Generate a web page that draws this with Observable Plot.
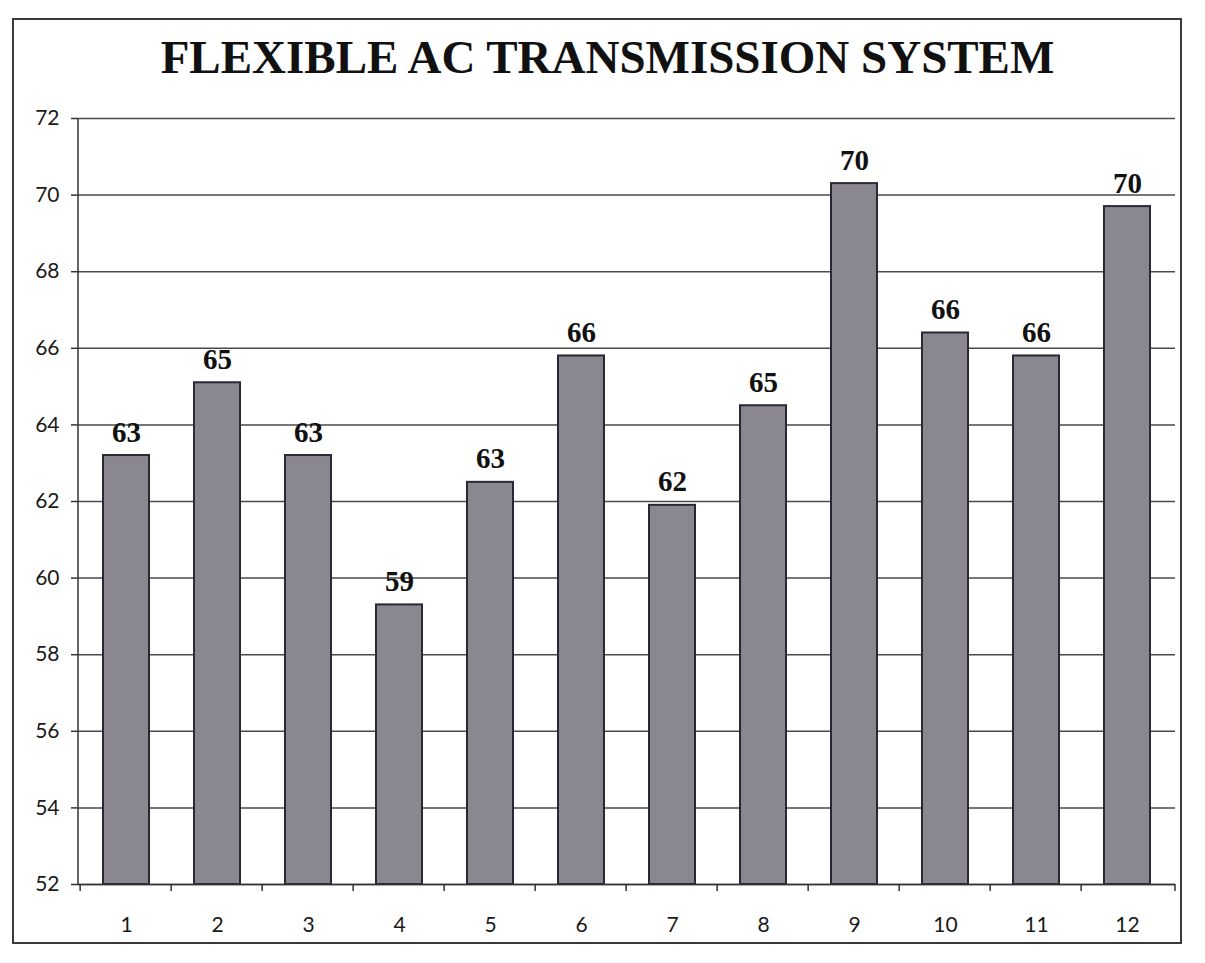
<!DOCTYPE html>
<html>
<head>
<meta charset="utf-8">
<script src="https://cdn.jsdelivr.net/npm/d3@7"></script>
<script src="https://cdn.jsdelivr.net/npm/@observablehq/plot@0.6"></script>
<style>
  html, body { margin: 0; padding: 0; background: #fff; }
  body { width: 1205px; height: 963px; position: relative; overflow: hidden; }
  #frame { position: absolute; left: 12px; top: 18px; width: 1170px; height: 926px;
           border: 2px solid #3a3a3a; box-sizing: border-box; }
  #title { position: absolute; left: 0; width: 1215px; top: 30px; text-align: center;
           font-family: "Liberation Serif", "Times New Roman", serif; font-weight: bold;
           font-size: 47px; color: #111; }
  #chart { position: absolute; left: 0; top: 100px; }
</style>
</head>
<body>
<div id="frame"></div>
<div id="title">FLEXIBLE AC TRANSMISSION SYSTEM</div>
<div id="chart"></div>
<script>
const categories = ["1", "2", "3", "4", "5", "6", "7", "8", "9", "10", "11", "12"];
const values = [63.2, 65.1, 63.2, 59.3, 62.5, 65.8, 61.9, 64.5, 70.3, 66.4, 65.8, 69.7];
const labels = ["63", "65", "63", "59", "63", "66", "62", "65", "70", "66", "66", "70"];
const yTicks = [52, 54, 56, 58, 60, 62, 64, 66, 68, 70, 72];

const data = categories.map((c, i) => ({cat: c, value: values[i], label: labels[i]}));

const W = 1205, H = 860, ML = 78, MR = 30, MT = 18, MB = 76;

// small tick marks on the category boundaries (Excel style) + y axis line
function boundaryTicks(index, scales, values, dims) {
  const g = d3.create("svg:g");
  const step = (dims.width - dims.marginLeft - dims.marginRight) / categories.length;
  const y0 = dims.height - dims.marginBottom;
  const xs = categories.map(c => scales.x(c) - step * 0.25);
  xs.push(dims.width - dims.marginRight);
  for (const x of xs) {
    g.append("line").attr("x1", x).attr("x2", x).attr("y1", y0).attr("y2", y0 + 7)
      .attr("stroke", "#333").attr("stroke-width", 1.5);
  }
  g.append("line").attr("x1", dims.marginLeft).attr("x2", dims.marginLeft)
    .attr("y1", dims.marginTop).attr("y2", y0)
    .attr("stroke", "#333").attr("stroke-width", 1.5);
  return g.node();
}

const chart = Plot.plot({
  width: W,
  height: H,
  marginLeft: ML,
  marginRight: MR,
  marginTop: MT,
  marginBottom: MB,
  style: {background: "transparent", fontFamily: "Lato, 'Open Sans', sans-serif", fontSize: "21px", color: "#1a1a1a"},
  x: {domain: categories, paddingInner: 0.5, paddingOuter: 0.25, label: null},
  y: {domain: [52, 72], label: null},
  marks: [
    Plot.gridY(yTicks, {stroke: "#4a4a4a", strokeOpacity: 1, strokeWidth: 1.5}),
    Plot.axisY(yTicks, {tickSize: 7, tickPadding: 12, stroke: "#333", strokeWidth: 1.5, fontSize: 21, label: null}),
    Plot.axisX({tickSize: 0, tickPadding: 33, fontSize: 21, label: null}),
    Plot.rectY(data, {x: "cat", y1: 52, y2: "value", fill: "#8a8791", stroke: "#2a2833", strokeWidth: 2}),
    Plot.ruleY([52], {stroke: "#333", strokeWidth: 1.5}),
    boundaryTicks,
    Plot.text(data, {x: "cat", y: "value", text: "label", dy: -14, lineAnchor: "bottom",
      fontFamily: "'Liberation Serif', 'Times New Roman', serif", fontWeight: "bold", fontSize: 29, fill: "#111"})
  ]
});

document.getElementById("chart").appendChild(chart);
</script>
</body>
</html>
